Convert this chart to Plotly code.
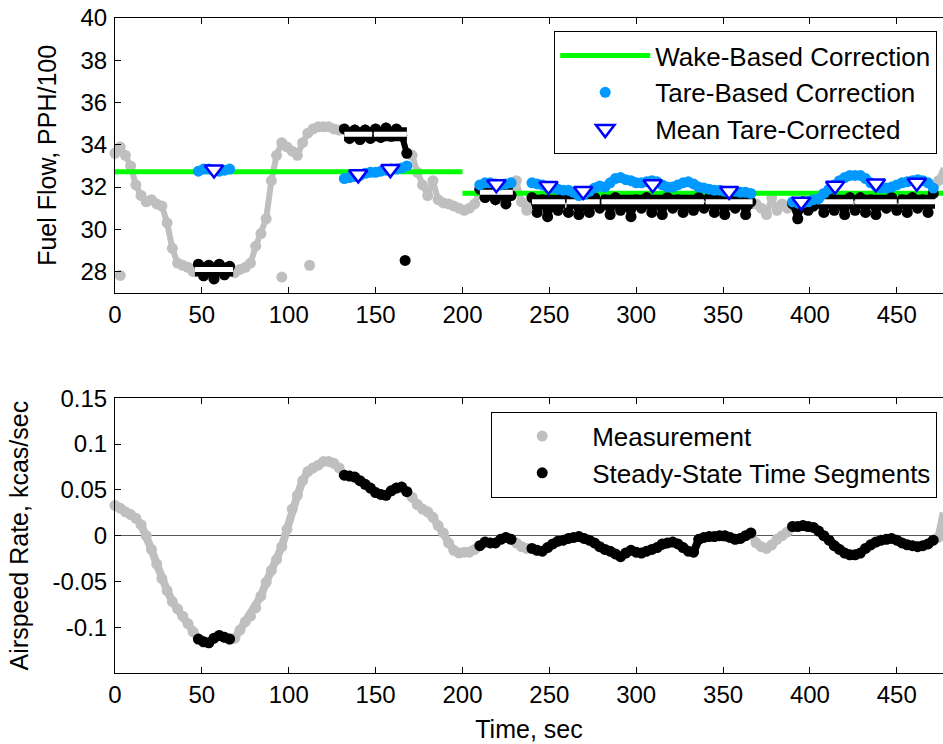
import plotly.graph_objects as go

# ---------------- data ----------------
TIME_S = list(range(0, 478, 3))  # sample clock, s

FUEL_FLOW = [
    33.6, 33.9, 33.5, 33.0, 32.1, 31.6, 31.3, 31.4, 31.2, 31.1,
    30.3, 29.1, 28.4, 28.3, 28.2, 28.0, 28.35, 27.8, 28.3, 27.65,
    28.35, 27.85, 28.25, 27.95, 28.1, 28.2, 28.4, 29.2, 29.8, 30.5,
    32.3, 33.5, 34.1, 33.9, 33.7, 33.5, 34.1, 34.55, 34.75, 34.85,
    34.85, 34.85, 34.75, 34.7, 34.75, 34.3, 34.7, 34.25, 34.7, 34.3,
    34.75, 34.35, 34.8, 34.4, 34.75, 34.45, 33.6, 33.5, 32.7, 32.1,
    31.6, 32.3, 31.4, 31.25, 31.2, 31.1, 31.0, 30.9, 31.0, 31.2,
    31.9, 31.5, 31.85, 31.4, 31.8, 31.2, 31.6, 32.3, 31.3, 30.9,
    31.5, 30.8, 31.4, 30.6, 31.2, 30.9, 31.5, 30.8, 31.4, 30.7,
    31.2, 30.8, 31.5, 31.0, 31.4, 30.7, 31.5, 30.9, 31.3, 30.6,
    31.4, 31.0, 31.5, 30.8, 31.3, 30.7, 31.5, 31.0, 31.4, 30.8,
    31.3, 30.9, 31.5, 31.0, 31.5, 30.8, 31.3, 30.7, 31.4, 31.0,
    31.5, 30.7, 31.3, 31.2, 31.0, 30.7, 31.5, 30.9, 31.2, 31.0,
    31.2, 30.5, 31.3, 30.9, 31.1, 31.4, 30.8, 31.5, 30.9, 31.3,
    30.7, 31.5, 30.9, 31.5, 30.8, 31.4, 30.7, 31.3, 31.0, 31.5,
    30.9, 31.4, 30.8, 31.5, 31.0, 31.4, 30.8, 31.7, 32.3, 32.9,
]

AIRSPEED_RATE = [
    0.033, 0.030, 0.026, 0.023, 0.019, 0.012, 0.000, -0.015, -0.031, -0.047,
    -0.060, -0.072, -0.080, -0.088, -0.096, -0.105, -0.113, -0.116, -0.117, -0.112,
    -0.109, -0.111, -0.113, -0.112, -0.103, -0.094, -0.088, -0.079, -0.066, -0.051,
    -0.038, -0.026, -0.012, 0.007, 0.029, 0.044, 0.060, 0.070, 0.074, 0.077,
    0.081, 0.081, 0.079, 0.074, 0.066, 0.065, 0.064, 0.060, 0.056, 0.052,
    0.047, 0.045, 0.044, 0.049, 0.052, 0.053, 0.048, 0.042, 0.034, 0.029,
    0.026, 0.020, 0.011, 0.003, -0.008, -0.016, -0.019, -0.018, -0.018, -0.015,
    -0.011, -0.007, -0.008, -0.008, -0.004, -0.002, -0.004, -0.008, -0.012, -0.014,
    -0.014, -0.016, -0.017, -0.013, -0.009, -0.006, -0.005, -0.003, -0.002, -0.001,
    -0.003, -0.005, -0.008, -0.012, -0.015, -0.017, -0.020, -0.023, -0.019, -0.016,
    -0.018, -0.019, -0.017, -0.015, -0.013, -0.009, -0.008, -0.007, -0.009, -0.013,
    -0.017, -0.018, -0.004, -0.002, -0.001, -0.001, 0.000, 0.000, -0.002, -0.004,
    -0.003, 0.000, 0.003, -0.008, -0.012, -0.014, -0.010, -0.004, 0.000, 0.004,
    0.010, 0.010, 0.011, 0.010, 0.009, 0.005, 0.000, -0.005, -0.011, -0.015,
    -0.019, -0.021, -0.021, -0.019, -0.014, -0.010, -0.007, -0.005, -0.004, -0.003,
    -0.005, -0.008, -0.010, -0.011, -0.012, -0.011, -0.009, -0.005, -0.002, 0.025,
]

# isolated fuel-flow spikes
FF_SPIKE_T = [3, 96, 112]
FF_SPIKE = [27.82, 27.74, 28.3]
SS_SPIKE_T = [167]
SS_SPIKE_FF = [28.53]

# steady-state time segments
SEG_START = [46, 132, 149, 210, 240, 260, 280, 340, 388, 404, 426, 451]
SEG_END = [68, 148, 168, 229, 259, 279, 339, 367, 402, 425, 450, 472]
SEG_LEVEL_FF = [28.1, 34.5, 34.5, 31.75, 31.3, 31.3, 31.3, 31.3, None, 31.3, 31.3, 31.3]

# tare-based corrected fuel flow at the steady-state samples (segment by segment)
TARE_FF = [
    32.75, 32.85, 32.85, 32.8, 32.75, 32.8, 32.85,
    32.4, 32.45, 32.5, 32.55, 32.65, 32.7,
    32.7, 32.75, 32.8, 32.85, 32.85, 32.9, 33.0,
    32.1, 32.2, 32.2, 32.15, 32.1, 32.15, 32.2,
    32.2, 32.15, 32.1, 32.0, 31.95, 31.9, 31.85,
    31.85, 31.75, 31.6, 31.65, 31.8, 31.95, 32.05,
    32.0, 32.2, 32.4, 32.45, 32.35, 32.3, 32.2, 32.2, 32.25, 32.3,
    32.25, 32.1, 32.0, 32.0, 32.1, 32.2, 32.25, 32.15, 32.0, 31.95,
    31.9, 31.85, 31.85, 31.8, 31.8, 31.8, 31.75, 31.75, 31.7,
    31.3, 31.25, 31.25, 31.3, 31.4,
    31.45, 31.7, 31.9, 32.1, 32.3, 32.45, 32.55,
    32.55, 32.55, 32.4, 32.2, 32.05, 31.95, 31.95, 32.0, 32.1,
    32.2, 32.25, 32.3, 32.35, 32.3, 32.2, 31.95,
]
MEAN_TARE_FF = [32.83, 32.6, 32.85, 32.13, 32.05, 31.81, 32.13, 31.81, 31.31, 32.06, 32.17, 32.2]

# wake-based correction levels
WAKE_START = [0, 200]
WAKE_END = [200, 477]
WAKE_FF = [32.72, 31.71]

X_TICKS = [0, 50, 100, 150, 200, 250, 300, 350, 400, 450]
FF_TICKS = [28, 30, 32, 34, 36, 38, 40]
AR_TICKS = [-0.1, -0.05, 0, 0.05, 0.1, 0.15]
AR_TICK_TEXT = ["-0.1", "-0.05", "0", "0.05", "0.1", "0.15"]

# ---------------- derived groupings ----------------
ss_t, ss_ff, ss_ar = [], [], []
for s, e in zip(SEG_START, SEG_END):
    for t, f, a in zip(TIME_S, FUEL_FLOW, AIRSPEED_RATE):
        if s <= t <= e:
            ss_t.append(t); ss_ff.append(f); ss_ar.append(a)
    ss_t.append(None); ss_ff.append(None); ss_ar.append(None)

tare_t = [t for t in ss_t if t is not None]
assert len(tare_t) == len(TARE_FF)

bar_x, bar_y = [], []
for s, e, lv in zip(SEG_START, SEG_END, SEG_LEVEL_FF):
    if lv is None:
        continue
    bar_x += [s, e, None]
    bar_y += [lv, lv, None]

wake_x, wake_y = [], []
for s, e, v in zip(WAKE_START, WAKE_END, WAKE_FF):
    wake_x += [s, e, None]
    wake_y += [v, v, None]

mid_t = [(s + e) / 2 for s, e in zip(SEG_START, SEG_END)]

GRAY = "rgb(191,191,191)"
BLUE_DOT = "rgb(0,153,255)"
FONT = "Liberation Sans, Arial, sans-serif"
MS = 11

fig = go.Figure()

# ---- top: fuel flow ----
fig.add_trace(go.Scatter(x=TIME_S, y=FUEL_FLOW, mode="lines",
                         line=dict(color=GRAY, width=6), showlegend=False,
                         hoverinfo="skip", xaxis="x", yaxis="y"))
fig.add_trace(go.Scatter(x=TIME_S + FF_SPIKE_T, y=FUEL_FLOW + FF_SPIKE, mode="markers",
                         marker=dict(color=GRAY, size=MS), showlegend=False,
                         cliponaxis=False, xaxis="x", yaxis="y"))
fig.add_trace(go.Scatter(x=wake_x, y=wake_y, mode="lines", name="Wake-Based Correction",
                         line=dict(color="rgb(0,255,0)", width=5), xaxis="x", yaxis="y",
                         legend="legend"))
fig.add_trace(go.Scatter(x=ss_t, y=ss_ff, mode="lines",
                         line=dict(color="black", width=6), showlegend=False,
                         hoverinfo="skip", xaxis="x", yaxis="y"))
fig.add_trace(go.Scatter(x=ss_t + SS_SPIKE_T, y=ss_ff + SS_SPIKE_FF, mode="markers",
                         marker=dict(color="black", size=MS), showlegend=False,
                         cliponaxis=False, xaxis="x", yaxis="y"))
fig.add_trace(go.Scatter(x=bar_x, y=bar_y, mode="lines",
                         line=dict(color="black", width=14), showlegend=False,
                         hoverinfo="skip", xaxis="x", yaxis="y"))
fig.add_trace(go.Scatter(x=bar_x, y=bar_y, mode="lines",
                         line=dict(color="white", width=5), showlegend=False,
                         hoverinfo="skip", xaxis="x", yaxis="y"))
fig.add_trace(go.Scatter(x=tare_t, y=TARE_FF, mode="markers", name="Tare-Based Correction",
                         marker=dict(color=BLUE_DOT, size=MS), cliponaxis=False,
                         xaxis="x", yaxis="y", legend="legend"))
fig.add_trace(go.Scatter(x=mid_t, y=MEAN_TARE_FF, mode="markers", name="Mean Tare-Corrected",
                         marker=dict(symbol="triangle-down", size=16, color="white",
                                     line=dict(color="rgb(0,0,255)", width=2.5)),
                         cliponaxis=False, xaxis="x", yaxis="y", legend="legend"))

# ---- bottom: airspeed rate ----
fig.add_trace(go.Scatter(x=TIME_S, y=AIRSPEED_RATE, mode="lines",
                         line=dict(color=GRAY, width=8), showlegend=False,
                         hoverinfo="skip", xaxis="x2", yaxis="y2"))
fig.add_trace(go.Scatter(x=TIME_S, y=AIRSPEED_RATE, mode="markers", name="Measurement",
                         marker=dict(color=GRAY, size=MS), cliponaxis=False,
                         xaxis="x2", yaxis="y2", legend="legend2"))
fig.add_trace(go.Scatter(x=ss_t, y=ss_ar, mode="lines",
                         line=dict(color="black", width=8), showlegend=False,
                         hoverinfo="skip", xaxis="x2", yaxis="y2"))
fig.add_trace(go.Scatter(x=ss_t, y=ss_ar, mode="markers", name="Steady-State Time Segments",
                         marker=dict(color="black", size=MS), cliponaxis=False,
                         xaxis="x2", yaxis="y2", legend="legend2"))

axis_common = dict(showline=True, linecolor="black", linewidth=1, ticks="inside",
                   ticklen=6, tickcolor="black", tickwidth=1, showgrid=False,
                   zeroline=False, tickfont=dict(size=24, color="black"))
XR = [0, 476.6]
TOP_DOM = [0.5806, 1.0]
BOT_DOM = [0.0, 0.4194]

legend_common = dict(bgcolor="white", bordercolor="black", borderwidth=1,
                     font=dict(size=26, color="black", family=FONT),
                     xanchor="right", yanchor="top", itemwidth=90,
                     tracegroupgap=0)

fig.update_layout(
    width=943, height=744,
    margin=dict(l=115, r=0, t=18, b=71),
    paper_bgcolor="white", plot_bgcolor="white",
    font=dict(family=FONT, color="black"),
    xaxis=dict(domain=[0, 1], range=XR, anchor="y", tickvals=X_TICKS,
               mirror="ticks", ticklabelstandoff=0, **axis_common),
    yaxis=dict(domain=TOP_DOM, range=[27, 40], anchor="x", tickvals=FF_TICKS,
               mirror=False, ticklabelstandoff=2,
               title=dict(text="Fuel Flow, PPH/100", font=dict(size=25), standoff=16),
               **axis_common),
    yaxis3=dict(overlaying="y", side="right", anchor="x", range=[27, 40],
                tickvals=FF_TICKS, showticklabels=False, ticks="inside", ticklen=6,
                tickcolor="black", showline=False, showgrid=False, zeroline=False),
    xaxis2=dict(domain=[0, 1], range=XR, anchor="y2", tickvals=X_TICKS,
                mirror="ticks", ticklabelstandoff=0,
                title=dict(text="Time, sec", font=dict(size=25), standoff=13),
                **axis_common),
    yaxis2=dict(domain=BOT_DOM, range=[-0.15, 0.15], anchor="x2", tickvals=AR_TICKS,
                ticktext=AR_TICK_TEXT, mirror=False, ticklabelstandoff=2,
                title=dict(text="Airspeed Rate, kcas/sec", font=dict(size=25), standoff=16),
                **{k: v for k, v in axis_common.items() if k != "zeroline"},
                zeroline=True, zerolinecolor="rgb(90,90,90)", zerolinewidth=1),
    yaxis4=dict(overlaying="y2", side="right", anchor="x2", range=[-0.15, 0.15],
                tickvals=AR_TICKS, showticklabels=False, ticks="inside", ticklen=6,
                tickcolor="black", showline=False, showgrid=False, zeroline=False),
    legend=dict(x=0.993, y=0.980, **legend_common),
    legend2=dict(x=0.993, y=0.399, **legend_common),
)

fig.write_html(
    "out.html",
    config={"displayModeBar": False},
    post_script="document.body.style.margin='0';document.body.style.overflow='hidden';",
)
